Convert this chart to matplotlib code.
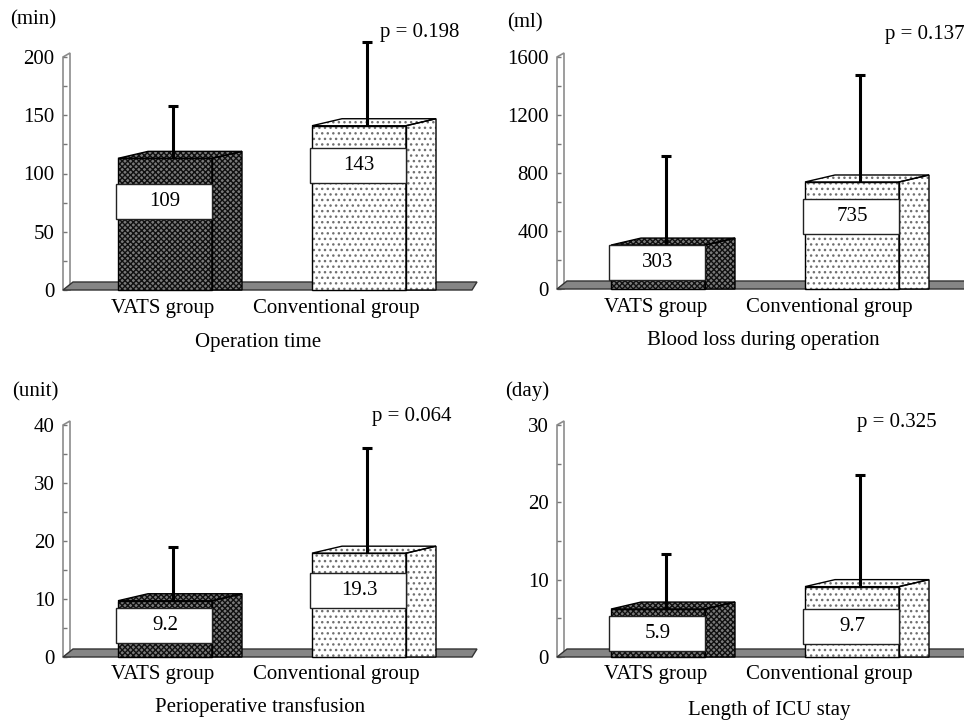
import numpy as np
import matplotlib
matplotlib.use('Agg')
import matplotlib.pyplot as plt
from matplotlib.patches import Polygon, Rectangle

#_Style_________________________________________________________________________
plt.rcParams['font.family'] = ['Liberation Serif', 'DejaVu Serif']
plt.rcParams['font.size'] = 15
plt.rcParams['hatch.linewidth'] = 1.0

#_Data__________________________________________________________________________
groups = ['VATS group', 'Conventional group']

titles = ['Operation time', 'Blood loss during operation',
          'Perioperative transfusion', 'Length of ICU stay']
units = ['(min)', '(ml)', '(unit)', '(day)']
p_values = ['p = 0.198', 'p = 0.137', 'p = 0.064', 'p = 0.325']

# means printed in the white boxes
mean_time = [109, 143]
mean_blood = [303, 735]
mean_transf = [9.2, 19.3]
mean_icu = [5.9, 9.7]
# bar heights as drawn in the figure
bar_time = [113, 141]
bar_blood = [303, 738]
bar_transf = [9.7, 17.9]
bar_icu = [6.2, 9.1]
# upper end of the error bars (mean + SD)
err_time = [158, 213]
err_blood = [917, 1476]
err_transf = [19.0, 36.0]
err_icu = [13.3, 23.5]
# height where the value box sits
box_time = [76, 107]
box_blood = [186, 497]
box_transf = [5.5, 11.5]
box_icu = [3.0, 4.0]

yticks_time = [0, 50, 100, 150, 200]
yticks_blood = [0, 400, 800, 1200, 1600]
yticks_transf = [0, 10, 20, 30, 40]
yticks_icu = [0, 10, 20, 30]

#_Layout (figure pixels)________________________________________________________
W, H = 964, 721
cat_px = 194          # pixels between the two categories
bar_px = 94           # width of the front face
depth_px = 30         # horizontal depth of the 3D bars
rise_px = 7           # vertical rise of the top face
box_px = 35           # height of the value boxes
err_off_px = 8        # error bar sits a bit right of the front centre

# (axis left, zero y, top y, first bar centre, right edge)
panel_px = [(63, 290, 57, 165, 482),
            (557, 289, 57, 658, 964),
            (63, 657, 425, 165, 482),
            (557, 657, 425, 658, 964)]
unit_px = [(10, 20), (507, 23), (12, 392), (505, 391)]
p_px = [(380, 33), (885, 35), (372, 416), (857, 423)]
title_px = [(258, 342), (763, 341), (260, 707), (769, 710)]
floor_end_px = [477, 990, 477, 990]
label_dx = [-2, -23]

vats_style = dict(facecolor='#7a7a7a', edgecolor='#101010', hatch='xxxxxx')
conv_style = dict(facecolor='white', edgecolor='#707070', hatch='...')


def draw_panel(fig, k, bars, means, errs, boxes, yticks):
    axl, y0, yt, c0, right = panel_px[k]
    ax = fig.add_axes([axl / W, (H - y0) / H, (right - axl) / W, (y0 - yt) / H])
    xmin, xmax = (axl - c0) / cat_px, (right - c0) / cat_px
    ymax = yticks[-1]
    ax.set_xlim(xmin, xmax)
    ax.set_ylim(0, ymax)
    ax.patch.set_visible(False)
    for s in ax.spines.values():
        s.set_visible(False)
    sx = 1.0 / cat_px               # data units per pixel, x
    sy = ymax / (y0 - yt)           # data units per pixel, y

    # y axis drawn as a thin wall
    wall = Polygon([(xmin, 0), (xmin, ymax), (xmin + 7 * sx, ymax + 4 * sy),
                    (xmin + 7 * sx, 0)], closed=True, facecolor='white',
                   edgecolor='#8c8c8c', lw=1.2, clip_on=False, zorder=1)
    ax.add_patch(wall)
    # floor slab
    xe = (floor_end_px[k] - c0) / cat_px
    floor = Polygon([(xmin, 0), (xmin + 10 * sx, 8 * sy), (xe, 8 * sy),
                     (xe - 5 * sx, 0)], closed=True, facecolor='#858585',
                    edgecolor='#333333', lw=1.0, clip_on=False, zorder=2)
    ax.add_patch(floor)

    ax.set_yticks(yticks)
    ax.set_yticks([(a + b) / 2 for a, b in zip(yticks[:-1], yticks[1:])],
                  minor=True)
    ax.set_yticklabels([str(t) for t in yticks])
    ax.tick_params(axis='y', which='both', direction='in', length=3,
                   width=1, color='#777777', pad=6, labelsize=15)
    ax.set_xticks([])

    w = bar_px * sx
    dx, dy = depth_px * sx, rise_px * sy
    x = np.arange(len(groups))
    for i, style in enumerate([vats_style, conv_style]):
        h = bars[i]
        ax.bar(x[i], h, width=w, lw=0, zorder=3, clip_on=False, **style)
        ax.bar(x[i], h, width=w, fill=False, edgecolor='k', lw=1.0,
               zorder=4, clip_on=False)
        x1 = x[i] + w / 2
        x0 = x[i] - w / 2
        side = [(x1, 0), (x1 + dx, 0), (x1 + dx, h + dy), (x1, h)]
        top = [(x0, h), (x0 + dx, h + dy), (x1 + dx, h + dy), (x1, h)]
        for pts in (side, top):
            ax.add_patch(Polygon(pts, closed=True, lw=0, zorder=3,
                                 clip_on=False, **style))
            ax.add_patch(Polygon(pts, closed=True, fill=False, edgecolor='k',
                                 lw=1.0, zorder=4, clip_on=False))
        # error bar (upper half only)
        xe_i = x[i] + err_off_px * sx
        ax.vlines(xe_i, h, errs[i], colors='k', lw=2.2, zorder=5,
                  clip_on=False)
        ax.hlines(errs[i], xe_i - 5 * sx, xe_i + 5 * sx, colors='k', lw=2.2,
                  zorder=5, clip_on=False)
        # value box
        bh = box_px * sy
        ax.add_patch(Rectangle((x0 - 2 * sx, boxes[i] - bh / 2), w + 2 * sx,
                               bh, facecolor='white', edgecolor='#222222',
                               lw=1.0, zorder=6, clip_on=False))
        ax.text(x[i], boxes[i], str(means[i]), ha='center', va='center',
                fontsize=15, zorder=7)
        # category label
        ax.annotate(groups[i], xy=(x[i], 0), xytext=(label_dx[i], -18),
                    textcoords='offset pixels', ha='center', va='center',
                    fontsize=15, annotation_clip=False)

    fig.text(unit_px[k][0] / W, 1 - unit_px[k][1] / H, units[k],
             ha='left', va='center', fontsize=15)
    fig.text(p_px[k][0] / W, 1 - p_px[k][1] / H, p_values[k],
             ha='left', va='center', fontsize=15)
    fig.text(title_px[k][0] / W, 1 - title_px[k][1] / H, titles[k],
             ha='center', va='center', fontsize=15)
    return ax


fig = plt.figure(figsize=(W / 100, H / 100), dpi=100)
fig.patch.set_facecolor('white')

draw_panel(fig, 0, bar_time, mean_time, err_time, box_time, yticks_time)
draw_panel(fig, 1, bar_blood, mean_blood, err_blood, box_blood, yticks_blood)
draw_panel(fig, 2, bar_transf, mean_transf, err_transf, box_transf,
           yticks_transf)
draw_panel(fig, 3, bar_icu, mean_icu, err_icu, box_icu, yticks_icu)

fig.savefig('out.png', dpi=100)
